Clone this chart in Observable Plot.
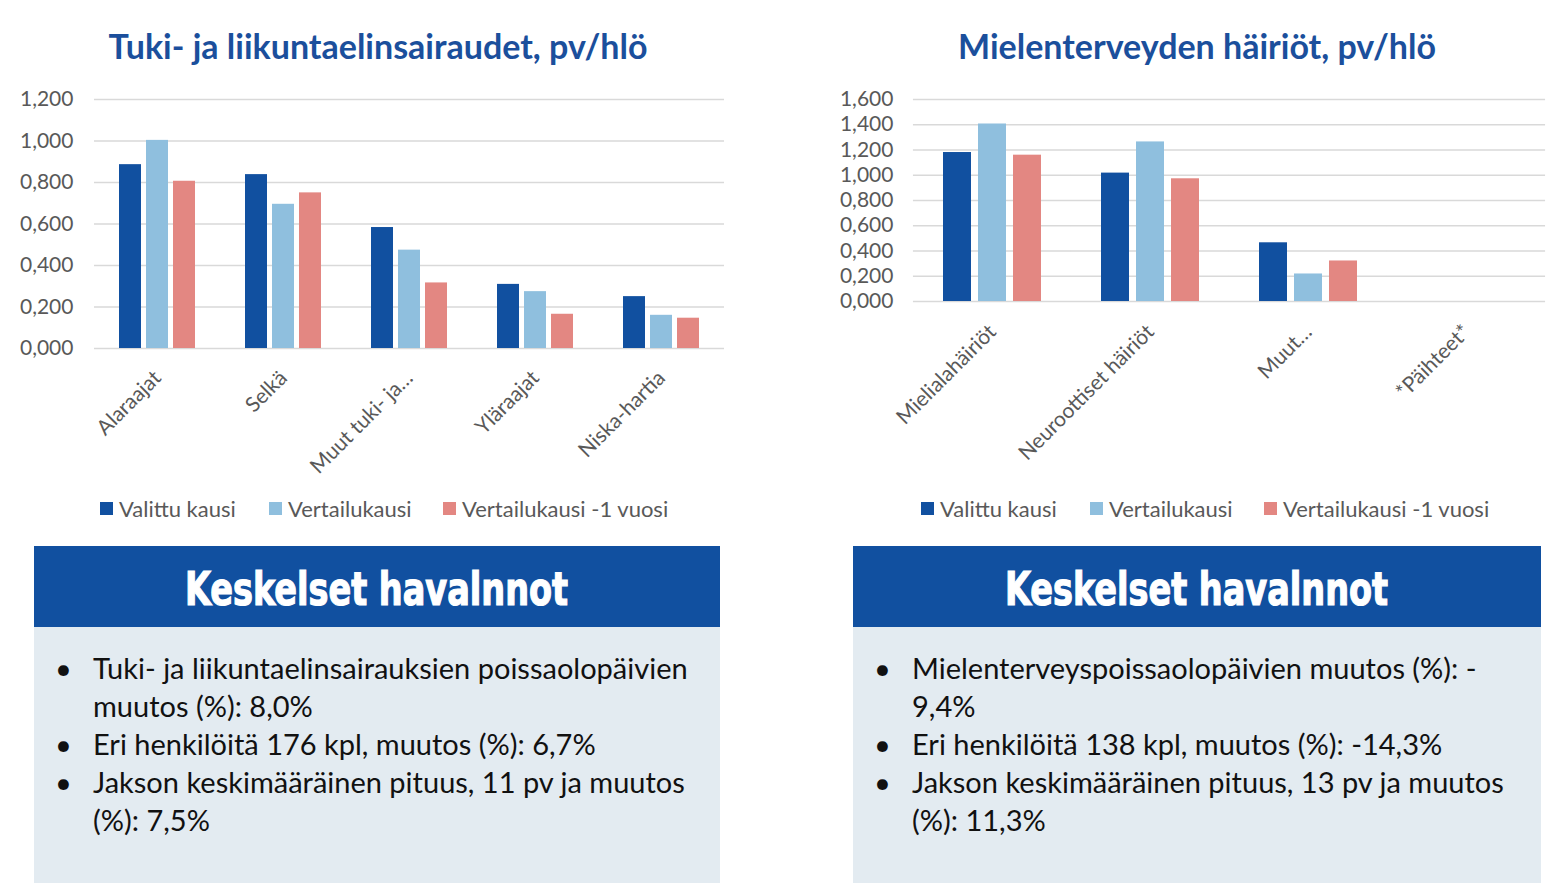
<!DOCTYPE html>
<html><head><meta charset="utf-8">
<script src="https://cdn.jsdelivr.net/npm/d3@7"></script>
<script src="https://cdn.jsdelivr.net/npm/@observablehq/plot@0.6"></script>
<style>
body{margin:0;width:1564px;height:889px;background:#fff;position:relative;overflow:hidden;font-family:Lato,"Open Sans",sans-serif}
.title{position:absolute;top:24px;font-weight:bold;color:#1b4f9c;font-size:34px;text-align:center;white-space:nowrap;line-height:44px}
.chart{position:absolute;top:80px}
.legend{position:absolute;top:495px;height:26px;font-size:22px;color:#595959}
.legend .item{position:absolute;top:0;white-space:nowrap;display:flex;align-items:center}
.legend .sw{display:inline-block;width:13px;height:13px;margin-right:6px}
.box{position:absolute;top:546px;height:337px;background:#e3ebf1}
.box .hdr{background:#1150a0;height:81px;color:#fff;font-family:"DejaVu Sans Condensed","DejaVu Sans",sans-serif;font-weight:bold;font-size:46px;display:flex;align-items:center;justify-content:center}
.box .hdr span{display:inline-block;transform:scaleX(0.81);-webkit-text-stroke:1.2px #fff;white-space:nowrap;padding-top:4px}
.box ul{margin:0;padding:0;list-style:none;position:absolute;top:103px;left:0}
.box li{position:relative;padding-left:59px;font-size:29px;line-height:38px;color:#111;white-space:nowrap}
.box li::before{content:"•";position:absolute;left:21px;top:0}
</style></head>
<body>
<div id="root"></div>
<script>
// ---- data ----
const leftCats = ["Alaraajat", "Selkä", "Muut tuki- ja…", "Yläraajat", "Niska-hartia"];
const leftValittu = [0.886, 0.838, 0.583, 0.309, 0.250];
const leftVertailu = [1.003, 0.695, 0.474, 0.274, 0.160];
const leftVertailu1 = [0.806, 0.750, 0.316, 0.165, 0.146];

const rightCats = ["Mielialahäiriöt", "Neuroottiset häiriöt", "Muut…", "*Päihteet*"];
const rightValittu = [1.180, 1.017, 0.465, 0];
const rightVertailu = [1.406, 1.264, 0.218, 0];
const rightVertailu1 = [1.159, 0.972, 0.321, 0];

const seriesNames = ["Valittu kausi", "Vertailukausi", "Vertailukausi -1 vuosi"];
const seriesColors = ["#1150a0", "#8fbfde", "#e38782"];

const leftTicks = [0, 0.2, 0.4, 0.6, 0.8, 1.0, 1.2];
const rightTicks = [0, 0.2, 0.4, 0.6, 0.8, 1.0, 1.2, 1.4, 1.6];

const leftTitle = "Tuki- ja liikuntaelinsairaudet, pv/hlö";
const rightTitle = "Mielenterveyden häiriöt, pv/hlö";
const boxTitle = "Keskelset havalnnot";
const leftBullets = [
  ["Tuki- ja liikuntaelinsairauksien poissaolopäivien", "muutos (%): 8,0%"],
  ["Eri henkilöitä 176 kpl, muutos (%): 6,7%"],
  ["Jakson keskimääräinen pituus, 11 pv ja muutos", "(%): 7,5%"]
];
const rightBullets = [
  ["Mielenterveyspoissaolopäivien muutos (%): -", "9,4%"],
  ["Eri henkilöitä 138 kpl, muutos (%): -14,3%"],
  ["Jakson keskimääräinen pituus, 13 pv ja muutos", "(%): 11,3%"]
];

// ---- helpers ----
const fmt = v => d3.format(".3f")(v).replace(".", ",");
function rows(cats, a, b, c) {
  const out = [];
  cats.forEach((cat, i) => {
    out.push({cat, series: seriesNames[0], value: a[i]});
    out.push({cat, series: seriesNames[1], value: b[i]});
    out.push({cat, series: seriesNames[2], value: c[i]});
  });
  return out;
}
const root = document.getElementById("root");

function makeChart({cats, data, ticks, left, width, mLeft, mRight, plotH, mBottom, labelGap, fxPad}) {
  const mTop = 19;
  const plotW = width - mLeft - mRight;
  const pi = 0.38, po = 0.19;
  const halfGap = pi * (plotW / cats.length) / 2;
  const svg = Plot.plot({
    width, height: mTop + plotH + mBottom,
    marginLeft: mLeft, marginRight: mRight, marginTop: mTop, marginBottom: mBottom,
    style: {fontSize: "21px", fontFamily: "Lato, 'Open Sans', sans-serif", color: "#595959", background: "transparent", overflow: "visible"},
    fx: {domain: cats, paddingInner: pi, paddingOuter: po, label: null, axis: "bottom", tickRotate: -45, tickSize: 0, tickPadding: fxPad},
    x: {domain: seriesNames, paddingInner: 0.2, paddingOuter: 0, axis: null},
    y: {domain: [ticks[0], ticks[ticks.length - 1]], ticks, tickFormat: fmt, tickSize: 0, tickPadding: labelGap + halfGap, label: null},
    color: {domain: seriesNames, range: seriesColors},
    marks: [
      Plot.ruleY(ticks, {stroke: "#d9d9d9", strokeWidth: 1.4, insetLeft: -halfGap, insetRight: -halfGap}),
      Plot.barY(data, {fx: "cat", x: "series", y: "value", fill: "series"})
    ]
  });
  const div = document.createElement("div");
  div.className = "chart";
  div.style.left = left + "px";
  div.appendChild(svg);
  root.appendChild(div);
}

function addTitle(text, center, w) {
  const t = document.createElement("div");
  t.className = "title";
  t.style.left = (center - w / 2) + "px";
  t.style.width = w + "px";
  t.textContent = text;
  root.appendChild(t);
}
function addLegend(x) {
  const lg = document.createElement("div");
  lg.className = "legend";
  lg.style.left = x + "px";
  const offs = [0, 169, 343];
  seriesNames.forEach((s, i) => {
    const it = document.createElement("div");
    it.className = "item";
    it.style.left = offs[i] + "px";
    const sw = document.createElement("span");
    sw.className = "sw";
    sw.style.background = seriesColors[i];
    it.appendChild(sw);
    it.appendChild(document.createTextNode(s));
    lg.appendChild(it);
  });
  root.appendChild(lg);
}
function addBox(x, w, bullets) {
  const b = document.createElement("div");
  b.className = "box";
  b.style.left = x + "px";
  b.style.width = w + "px";
  const h = document.createElement("div");
  h.className = "hdr";
  const hs = document.createElement("span");
  hs.textContent = boxTitle;
  h.appendChild(hs);
  b.appendChild(h);
  const ul = document.createElement("ul");
  bullets.forEach(lines => {
    const li = document.createElement("li");
    lines.forEach((ln, k) => {
      if (k) li.appendChild(document.createElement("br"));
      li.appendChild(document.createTextNode(ln));
    });
    ul.appendChild(li);
  });
  b.appendChild(ul);
  root.appendChild(b);
}

addTitle(leftTitle, 378, 740);
addTitle(rightTitle, 1197, 740);
makeChart({cats: leftCats, data: rows(leftCats, leftValittu, leftVertailu, leftVertailu1), ticks: leftTicks,
  left: 0, width: 740, mLeft: 93, mRight: 15, plotH: 249, mBottom: 140, labelGap: 21, fxPad: 26});
makeChart({cats: rightCats, data: rows(rightCats, rightValittu, rightVertailu, rightVertailu1), ticks: rightTicks,
  left: 820, width: 740, mLeft: 92, mRight: 15, plotH: 202, mBottom: 180, labelGap: 20, fxPad: 27});
addLegend(100);
addLegend(921);
addBox(34, 686, leftBullets);
addBox(853, 688, rightBullets);
</script>
</body></html>
